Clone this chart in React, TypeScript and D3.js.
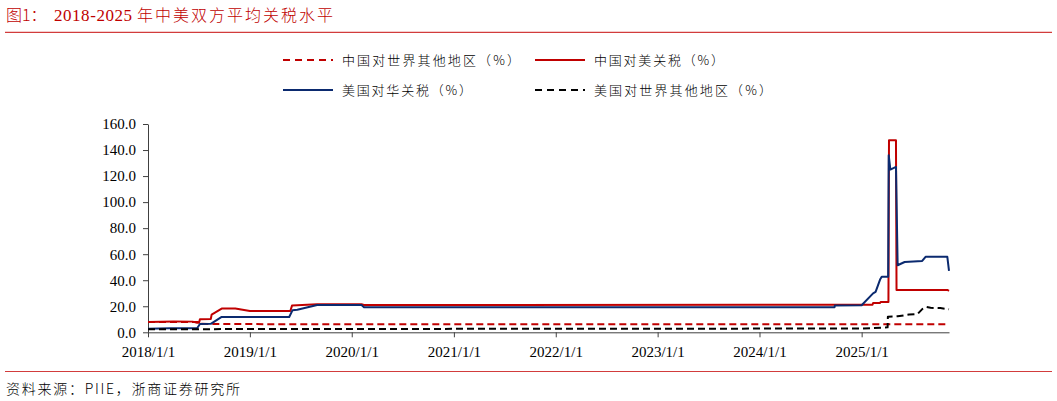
import React, { useEffect, useRef } from "react";
import * as d3 from "d3";

// ---- data ----
const chinaRowDates = ["2018-01-01", "2018-06-30", "2018-07-01", "2018-11-01", "2020-01-01", "2025-11-10"];
const chinaRowValues = [8.0, 8.0, 6.5, 6.3, 6.2, 6.2];

const chinaUsDates = [
  "2018-01-01", "2018-04-02", "2018-06-10", "2018-06-26", "2018-07-03", "2018-07-06",
  "2018-08-14", "2018-08-17", "2018-09-22", "2018-11-10", "2019-01-01", "2019-05-26",
  "2019-06-01", "2019-06-20", "2019-08-30", "2020-02-05", "2020-02-14", "2025-02-09",
  "2025-02-11", "2025-03-08", "2025-03-10", "2025-04-07", "2025-04-09", "2025-05-04",
  "2025-05-06", "2025-11-05", "2025-11-10",
];
const chinaUsValues = [
  8.0, 8.3, 8.2, 7.4, 7.4, 10.0,
  10.2, 13.6, 18.2, 18.2, 16.4, 16.4,
  20.5, 20.8, 21.5, 21.5, 21.0, 21.2,
  22.5, 22.6, 23.3, 23.3, 147.6, 147.6,
  32.5, 32.5, 31.8,
];

const usChinaDates = [
  "2018-01-01", "2018-03-22", "2018-06-26", "2018-07-06", "2018-08-14", "2018-09-22",
  "2019-05-22", "2019-06-03", "2019-06-20", "2019-08-30", "2020-02-05", "2020-02-14",
  "2024-09-26", "2024-09-27", "2025-01-01", "2025-02-11", "2025-02-20", "2025-03-08",
  "2025-03-14", "2025-04-06", "2025-04-08", "2025-04-14", "2025-05-04", "2025-05-10",
  "2025-06-04", "2025-08-06", "2025-08-18", "2025-11-04", "2025-11-10",
];
const usChinaValues = [
  2.7, 3.1, 3.1, 6.4, 6.5, 11.8,
  11.8, 17.0, 17.3, 21.0, 21.0, 19.3,
  19.3, 20.6, 20.8, 29.9, 31.0, 40.5,
  42.6, 42.6, 136.0, 125.0, 127.0, 51.5,
  54.0, 54.8, 58.0, 58.0, 47.2,
];

const usRowDates = [
  "2018-01-01", "2019-01-01", "2022-01-01", "2024-12-31", "2025-04-04", "2025-04-05",
  "2025-05-10", "2025-06-20", "2025-07-20", "2025-08-07", "2025-08-20", "2025-09-05",
  "2025-10-10", "2025-11-10",
];
const usRowValues = [2.3, 2.5, 2.7, 2.9, 3.8, 12.0, 12.3, 13.6, 14.0, 18.0, 19.5, 18.8, 18.6, 17.7];

const yTicks = [0, 20, 40, 60, 80, 100, 120, 140, 160];
const xTickYears = [2018, 2019, 2020, 2021, 2022, 2023, 2024, 2025];

const titleLabel = "图1：";
const titleYears = "2018-2025";
const titleText = "年中美双方平均关税水平";
const sourceText = "资料来源：PIIE，浙商证券研究所";

const seriesNames = [
  "中国对世界其他地区（%）",
  "中国对美关税（%）",
  "美国对华关税（%）",
  "美国对世界其他地区（%）",
];

const RED = "#C00000";
const BLUE = "#0B2A6F";
const BLACK = "#000000";

const SERIF = "'Liberation Serif', 'Times New Roman', serif";
const CJK = "'Noto Sans CJK SC', 'Noto Sans', sans-serif";

export default function App() {
  const ref = useRef<SVGSVGElement | null>(null);

  useEffect(() => {
    const svg = d3.select(ref.current);
    svg.selectAll("*").remove();

    const parse = d3.timeParse("%Y-%m-%d");
    const x = d3
      .scaleTime()
      .domain([parse("2018-01-01")!, parse("2025-11-10")!])
      .range([148, 949]);
    const y = d3.scaleLinear().domain([0, 160]).range([332.3, 124]);

    // header
    const title = svg.append("text").attr("y", 21).attr("fill", RED);
    title
      .append("tspan")
      .attr("x", 6)
      .style("font-family", CJK)
      .style("font-weight", "300")
      .style("font-size", "16px")
      .text(titleLabel);
    title
      .append("tspan")
      .attr("x", 54)
      .style("font-family", SERIF)
      .style("font-size", "17px")
      .attr("textLength", 78)
      .attr("lengthAdjust", "spacing")
      .text(titleYears);
    title
      .append("tspan")
      .attr("x", 137)
      .style("font-family", CJK)
      .style("font-weight", "300")
      .style("font-size", "16px")
      .attr("textLength", 196)
      .attr("lengthAdjust", "spacing")
      .text(titleText);

    svg
      .append("line")
      .attr("x1", 5)
      .attr("x2", 1052)
      .attr("y1", 32.3)
      .attr("y2", 32.3)
      .attr("stroke", "#D23C3C")
      .attr("stroke-width", 1.2);
    svg
      .append("line")
      .attr("x1", 5)
      .attr("x2", 1052)
      .attr("y1", 371.5)
      .attr("y2", 371.5)
      .attr("stroke", "#D23C3C")
      .attr("stroke-width", 1.2);

    const src = svg
      .append("text")
      .attr("x", 6)
      .attr("y", 394)
      .attr("fill", "#000")
      .style("font-family", CJK)
      .style("font-weight", "300")
      .style("font-size", "14px")
      .attr("textLength", 234)
      .attr("lengthAdjust", "spacing")
      .text(sourceText);
    void src;

    // axes
    const yAxis = d3
      .axisLeft(y)
      .tickValues(yTicks)
      .tickFormat((d) => d3.format(".1f")(d as number))
      .tickSize(5)
      .tickSizeOuter(0)
      .tickPadding(7);
    const gy = svg.append("g").attr("transform", "translate(148,0)").call(yAxis);
    gy.attr("font-family", null).attr("font-size", null);
    gy.selectAll("path,line").attr("stroke", "#404040");
    gy.selectAll("text")
      .style("font-family", SERIF)
      .style("font-size", "15px")
      .attr("fill", "#000");

    const xAxis = d3
      .axisBottom(x)
      .tickValues(xTickYears.map((yr) => new Date(yr, 0, 1)))
      .tickFormat((d) => `${(d as Date).getFullYear()}/1/1`)
      .tickSize(5)
      .tickSizeOuter(0)
      .tickPadding(9);
    const gx = svg.append("g").attr("transform", "translate(0,332.3)").call(xAxis);
    gx.attr("font-family", null).attr("font-size", null);
    gx.selectAll("path,line").attr("stroke", "#404040");
    gx.selectAll("text")
      .style("font-family", SERIF)
      .style("font-size", "15px")
      .attr("fill", "#000");

    // series
    type P = { d: Date; v: number };
    const build = (ds: string[], vs: number[]): P[] => ds.map((s, i) => ({ d: parse(s)!, v: vs[i] }));
    const line = d3
      .line<P>()
      .x((p) => x(p.d))
      .y((p) => y(p.v));

    const series = [
      { data: build(chinaRowDates, chinaRowValues), color: RED, dash: "7,4" },
      { data: build(chinaUsDates, chinaUsValues), color: RED, dash: null },
      { data: build(usChinaDates, usChinaValues), color: BLUE, dash: null },
      { data: build(usRowDates, usRowValues), color: BLACK, dash: "7,4" },
    ];

    series.forEach((s) => {
      const p = svg
        .append("path")
        .attr("d", line(s.data))
        .attr("fill", "none")
        .attr("stroke", s.color)
        .attr("stroke-width", 2)
        .attr("stroke-linejoin", "round");
      if (s.dash) p.attr("stroke-dasharray", s.dash);
    });

    // legend
    const legendItems = [
      { name: seriesNames[0], color: RED, dash: "7,5", lx: 283, ly: 60, tl: 178 },
      { name: seriesNames[1], color: RED, dash: null, lx: 535, ly: 60, tl: 130 },
      { name: seriesNames[2], color: BLUE, dash: null, lx: 283, ly: 90, tl: 130 },
      { name: seriesNames[3], color: BLACK, dash: "7,5", lx: 535, ly: 90, tl: 178 },
    ];
    legendItems.forEach((it) => {
      const l = svg
        .append("line")
        .attr("x1", it.lx)
        .attr("x2", it.lx + 50)
        .attr("y1", it.ly)
        .attr("y2", it.ly)
        .attr("stroke", it.color)
        .attr("stroke-width", 2);
      if (it.dash) l.attr("stroke-dasharray", it.dash);
      svg
        .append("text")
        .attr("x", it.lx + 59)
        .attr("y", it.ly + 4.5)
        .attr("fill", "#000")
        .style("font-family", CJK)
        .style("font-weight", "300")
        .style("font-size", "13px")
        .attr("textLength", it.tl)
        .attr("lengthAdjust", "spacing")
        .text(it.name);
    });
  }, []);

  return (
    <svg
      ref={ref}
      width={1057}
      height={401}
      style={{ position: "absolute", left: 0, top: 0, background: "#fff" }}
    />
  );
}
